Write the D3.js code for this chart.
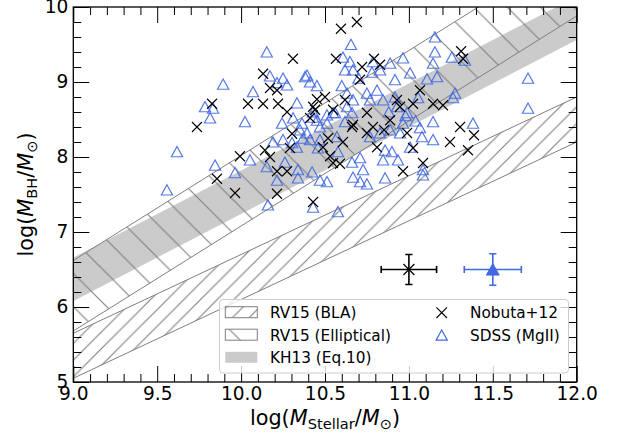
<!DOCTYPE html>
<html>
<head>
<meta charset="utf-8">
<script src="https://cdn.jsdelivr.net/npm/d3@7"></script>
<style>
  body { margin: 0; background: #fff; }
  svg { display: block; font-family: "DejaVu Sans", sans-serif; }
</style>
</head>
<body>
<svg id="chart" width="619" height="438"></svg>
<script>
// Nobuta+12: log stellar mass and log black-hole mass
const nobutaMstar = [10.309, 10.131, 10.172, 10.214, 10.041, 10.131, 10.220, 10.274, 9.827, 9.737,
  9.993, 9.856, 9.964, 10.142, 10.172, 10.214, 10.274, 10.214, 10.429, 10.304,
  10.291, 10.452, 10.441, 10.411, 10.595, 10.690, 10.565, 10.792, 10.721, 10.828,
  10.709, 10.500, 10.429, 10.548, 10.750, 10.786, 10.929, 10.947, 11.066, 11.025,
  11.144, 11.203, 11.311, 11.323, 11.305, 11.388, 11.245, 11.352, 11.025, 11.084,
  10.965, 10.607, 10.548, 10.589, 10.530, 10.488, 10.810, 10.661, 10.989, 10.750,
  10.888, 10.518, 10.667, 10.852, 10.619];
const nobutaMbh = [9.31, 9.11, 8.92, 8.89, 8.71, 8.71, 8.71, 8.60, 8.71, 8.40,
  8.01, 7.71, 7.52, 8.09, 8.00, 7.81, 7.81, 7.51, 7.40, 8.31,
  8.12, 8.77, 8.63, 8.52, 9.71, 9.80, 9.31, 9.31, 9.20, 9.23,
  9.03, 8.80, 8.67, 8.63, 8.59, 8.40, 8.76, 8.67, 8.89, 8.71,
  8.71, 8.69, 9.41, 9.31, 8.40, 8.29, 8.20, 8.09, 8.12, 7.92,
  7.81, 8.20, 7.92, 7.91, 8.01, 8.13, 8.13, 8.40, 8.32, 8.32,
  8.49, 8.25, 8.43, 8.36, 8.76];

// SDSS (MgII) quasars
const sdssMstar = [10.153, 9.893, 10.071, 10.172, 10.250, 10.214, 10.274, 9.785, 9.833, 9.815,
  10.023, 9.618, 9.558, 9.845, 9.964, 10.053, 10.153, 10.190, 10.214, 10.244,
  10.261, 10.333, 10.363, 10.381, 10.411, 10.452, 10.339, 10.339, 10.423, 10.470,
  10.429, 10.160, 10.250, 10.411, 10.458, 11.155, 11.155, 11.256, 11.334, 10.965,
  11.007, 11.144, 11.168, 11.108, 10.917, 10.888, 10.786, 10.780, 10.828, 10.649,
  10.607, 10.619, 10.667, 10.393, 10.631, 10.667, 10.750, 10.768, 10.810, 10.846,
  10.917, 10.929, 10.989, 11.055, 11.275, 11.263, 11.710, 11.710, 11.382, 11.144,
  11.144, 11.066, 11.078, 11.007, 10.947, 10.965, 10.888, 10.828, 10.768, 10.858,
  10.899, 10.935, 10.846, 10.709, 10.661, 10.727, 10.709, 10.750, 10.858, 11.084,
  11.084, 10.577, 10.512, 10.577, 10.393, 10.470, 10.512, 10.548, 10.470, 10.429,
  10.304, 10.369, 10.571, 10.667, 10.452, 10.512, 10.619, 10.429, 10.560, 10.661,
  10.631, 10.310, 10.351, 10.333, 10.655, 10.700, 10.880, 10.600, 10.980, 11.040];
const sdssMbh = [9.40, 8.97, 8.87, 9.08, 9.05, 8.99, 8.96, 8.67, 8.65, 8.52,
  8.47, 8.07, 7.56, 7.89, 7.79, 7.96, 7.87, 8.20, 7.69, 8.45,
  7.93, 8.72, 8.45, 9.07, 9.00, 8.95, 7.83, 7.72, 7.80, 7.69,
  7.33, 7.36, 8.23, 8.23, 8.12, 9.60, 9.40, 9.33, 9.29, 9.32,
  9.12, 9.25, 9.07, 9.04, 9.03, 9.25, 9.27, 9.13, 9.16, 9.27,
  9.33, 9.16, 9.16, 9.09, 8.85, 8.76, 8.85, 8.76, 8.89, 8.76,
  8.80, 8.67, 8.59, 8.79, 8.85, 8.79, 9.05, 8.65, 8.45, 8.47,
  8.23, 8.39, 8.27, 8.13, 8.32, 8.45, 8.36, 8.32, 8.27, 8.09,
  8.07, 7.96, 7.96, 7.99, 7.93, 7.83, 7.67, 7.64, 7.72, 7.83,
  7.76, 8.07, 7.67, 7.27, 8.32, 8.23, 8.45, 8.59, 8.40, 8.53,
  8.19, 8.25, 8.27, 7.73, 8.49, 8.56, 8.47, 8.60, 8.59, 8.59,
  8.67, 8.52, 8.36, 8.13, 9.50, 9.05, 8.60, 8.95, 8.55, 8.48];

// Scaling relations: log M_BH = norm + slope * (log M* - pivot) +/- scatter
const relNames = ["RV15 (BLA)", "RV15 (Elliptical)", "KH13 (Eq.10)"];
const relNorm = [7.45, 8.95, 8.69];
const relSlope = [1.05, 1.40, 1.16];
const relScatter = [0.30, 0.47, 0.29];
const relPivot = 11;

// Typical uncertainties of the two samples
const errNames = ["Nobuta+12", "SDSS (MgII)"];
const errMstar = [11.0, 11.5];
const errMbh = [6.5, 6.5];
const errDxVals = [0.165, 0.17];
const errDyVals = [0.2, 0.21];

const xMajor = [9.0, 9.5, 10.0, 10.5, 11.0, 11.5, 12.0];
const yMajor = [5, 6, 7, 8, 9, 10];

const svg = d3.select("#chart");
const L = 73.3, R = 576.7, T = 7, B = 382;
const x = d3.scaleLinear().domain([9, 12]).range([L, R]);
const y = d3.scaleLinear().domain([5, 10]).range([B, T]);

const GRAY = "#7f7f7f";
const BAND = "#cbcbcb";
const BLUE = "#4169e1";

const defs = svg.append("defs");
defs.append("clipPath").attr("id", "plotClip")
  .append("rect").attr("x", L).attr("y", T).attr("width", R - L).attr("height", B - T);

// hatch patterns: "/" dense, "\" sparse
function hatch(id, h, forward) {
  const p = defs.append("pattern").attr("id", id)
    .attr("patternUnits", "userSpaceOnUse").attr("width", h).attr("height", h);
  const d = forward
    ? `M0,${h} L${h},0 M${-h/4},${h/4} L${h/4},${-h/4} M${3*h/4},${5*h/4} L${5*h/4},${3*h/4}`
    : `M0,0 L${h},${h} M${-h/4},${3*h/4} L${h/4},${5*h/4} M${3*h/4},${-h/4} L${5*h/4},${h/4}`;
  p.append("path").attr("d", d).attr("stroke", GRAY).attr("stroke-width", 1.1).attr("fill", "none");
}
hatch("hatchBLA", 16.67, true);
hatch("hatchEll", 33.33, false);
const relFill = ["url(#hatchBLA)", "url(#hatchEll)", BAND];
const relEdge = [GRAY, GRAY, "none"];

const plot = svg.append("g").attr("clip-path", "url(#plotClip)");
const span = [8.8, 12.2];
const bandArea = i => d3.area()
  .x(d => x(d))
  .y0(d => y(relNorm[i] + relSlope[i] * (d - relPivot) - relScatter[i]))
  .y1(d => y(relNorm[i] + relSlope[i] * (d - relPivot) + relScatter[i]));

// gray band first, hatched bands on top
[2, 0, 1].forEach(i => {
  plot.append("path").datum(span)
    .attr("d", bandArea(i))
    .attr("fill", relFill[i])
    .attr("stroke", relEdge[i])
    .attr("stroke-width", 1);
});

// scatter points
const tri = "M0,-5.2 L5.6,5.0 L-5.6,5.0 Z";
const cross = s => `M${-s},${-s} L${s},${s} M${-s},${s} L${s},${-s}`;

plot.append("g").selectAll("path").data(sdssMstar).join("path")
  .attr("transform", (d, i) => `translate(${x(d)},${y(sdssMbh[i])})`)
  .attr("d", tri).attr("fill", "none").attr("stroke", BLUE)
  .attr("stroke-width", 1.2).attr("stroke-opacity", 0.9);

plot.append("g").selectAll("path").data(nobutaMstar).join("path")
  .attr("transform", (d, i) => `translate(${x(d)},${y(nobutaMbh[i])})`)
  .attr("d", cross(5)).attr("stroke", "#000").attr("stroke-width", 1.1).attr("fill", "none");

// typical error bars
const errColor = ["#000", BLUE];
errMstar.forEach((mx, i) => {
  const g = svg.append("g").attr("stroke", errColor[i]).attr("stroke-width", 1.6).attr("fill", "none");
  const cx = x(mx), cy = y(errMbh[i]);
  const x0 = x(mx - errDxVals[i]), x1 = x(mx + errDxVals[i]);
  const y0 = y(errMbh[i] - errDyVals[i]), y1 = y(errMbh[i] + errDyVals[i]);
  g.append("path").attr("d", `M${x0},${cy} L${x1},${cy} M${cx},${y0} L${cx},${y1}`);
  g.append("path").attr("d",
    `M${x0},${cy-3.6} L${x0},${cy+3.6} M${x1},${cy-3.6} L${x1},${cy+3.6}` +
    `M${cx-3.6},${y0} L${cx+3.6},${y0} M${cx-3.6},${y1} L${cx+3.6},${y1}`);
  if (i === 0) {
    g.append("path").attr("transform", `translate(${cx},${cy})`).attr("d", cross(5.5)).attr("stroke-width", 1.2);
  } else {
    g.append("path").attr("transform", `translate(${cx},${cy})`)
      .attr("d", "M0,-6 L6.4,5.6 L-6.4,5.6 Z").attr("fill", BLUE).attr("stroke", BLUE).attr("stroke-width", 1);
  }
});

// axes: ticks inward on all four sides
const xMinor = d3.range(90, 121).map(v => v / 10).filter(v => !xMajor.some(m => Math.abs(m - v) < 1e-9));
const yMinor = d3.range(25, 51).map(v => v / 5).filter(v => !yMajor.some(m => Math.abs(m - v) < 1e-9));
const MAJ = 16, MIN = 8;
const fontTick = 18.6;

function styleAxis(g) {
  g.select(".domain").remove();
  g.selectAll(".tick line").attr("stroke", "#000").attr("stroke-width", 1);
  g.selectAll(".tick text").attr("font-size", fontTick).attr("fill", "#000")
    .attr("font-family", "DejaVu Sans");
}
const axes = svg.append("g");
axes.append("g").attr("transform", `translate(0,${B})`)
  .call(d3.axisBottom(x).tickValues(xMajor).tickFormat(d3.format(".1f")).tickSizeInner(-MAJ).tickSizeOuter(0).tickPadding(5))
  .call(styleAxis);
axes.append("g").attr("transform", `translate(0,${B})`)
  .call(d3.axisBottom(x).tickValues(xMinor).tickFormat("").tickSizeInner(-MIN).tickSizeOuter(0))
  .call(styleAxis);
axes.append("g").attr("transform", `translate(0,${T})`)
  .call(d3.axisTop(x).tickValues(xMajor).tickFormat("").tickSizeInner(-MAJ).tickSizeOuter(0))
  .call(styleAxis);
axes.append("g").attr("transform", `translate(0,${T})`)
  .call(d3.axisTop(x).tickValues(xMinor).tickFormat("").tickSizeInner(-MIN).tickSizeOuter(0))
  .call(styleAxis);
axes.append("g").attr("transform", `translate(${L},0)`)
  .call(d3.axisLeft(y).tickValues(yMajor).tickFormat(d3.format("d")).tickSizeInner(-MAJ).tickSizeOuter(0).tickPadding(5))
  .call(styleAxis);
axes.append("g").attr("transform", `translate(${L},0)`)
  .call(d3.axisLeft(y).tickValues(yMinor).tickFormat("").tickSizeInner(-MIN).tickSizeOuter(0))
  .call(styleAxis);
axes.append("g").attr("transform", `translate(${R},0)`)
  .call(d3.axisRight(y).tickValues(yMajor).tickFormat("").tickSizeInner(-MAJ).tickSizeOuter(0))
  .call(styleAxis);
axes.append("g").attr("transform", `translate(${R},0)`)
  .call(d3.axisRight(y).tickValues(yMinor).tickFormat("").tickSizeInner(-MIN).tickSizeOuter(0))
  .call(styleAxis);

axes.append("rect").attr("x", L).attr("y", T).attr("width", R - L).attr("height", B - T)
  .attr("fill", "none").attr("stroke", "#000").attr("stroke-width", 1.3);

// axis titles with subscripts
function mathTitle(t, sub) {
  const fs = 20.8, ss = 14.6, drop = 4.2;
  t.attr("font-size", fs).attr("fill", "#000").attr("font-family", "DejaVu Sans");
  t.append("tspan").text("log(");
  t.append("tspan").attr("font-style", "italic").text("M");
  t.append("tspan").attr("font-size", ss).attr("dy", drop).text(sub);
  t.append("tspan").attr("dy", -drop).text("/");
  t.append("tspan").attr("font-style", "italic").text("M");
  t.append("tspan").attr("font-size", ss).attr("dy", drop).text("⊙");
  t.append("tspan").attr("dy", -drop).text(")");
}
svg.append("text").attr("x", (L + R) / 2).attr("y", 425).attr("text-anchor", "middle")
  .call(t => mathTitle(t, "Stellar"));
svg.append("text").attr("transform", `translate(33,${(T + B) / 2}) rotate(-90)`).attr("text-anchor", "middle")
  .call(t => mathTitle(t, "BH"));

// legend
const leg = svg.append("g");
leg.append("rect").attr("x", 219.5).attr("y", 299.5).attr("width", 349).attr("height", 73.5)
  .attr("rx", 3.5).attr("fill", "#fff").attr("fill-opacity", 0.8)
  .attr("stroke", "#cccccc").attr("stroke-width", 1);
const rowBase = [318.3, 340.8, 363.4];
const fontLeg = 15.3;
relNames.forEach((name, i) => {
  leg.append("rect").attr("x", 225.3).attr("y", rowBase[i] - 11.6).attr("width", 32).attr("height", 11)
    .attr("fill", relFill[i]).attr("stroke", relEdge[i]).attr("stroke-width", 1);
  leg.append("text").attr("x", 270).attr("y", rowBase[i]).attr("font-size", fontLeg)
    .attr("fill", "#000").text(name);
});
leg.append("path").attr("transform", `translate(441.7,${rowBase[0] - 5.6})`).attr("d", cross(5.3))
  .attr("stroke", "#000").attr("stroke-width", 1.1);
leg.append("path").attr("transform", `translate(441.7,${rowBase[1] - 5.6})`).attr("d", tri)
  .attr("fill", "none").attr("stroke", BLUE).attr("stroke-width", 1.2);
errNames.forEach((name, i) => {
  leg.append("text").attr("x", 470).attr("y", rowBase[i]).attr("font-size", fontLeg)
    .attr("fill", "#000").text(name);
});
</script>
</body>
</html>
